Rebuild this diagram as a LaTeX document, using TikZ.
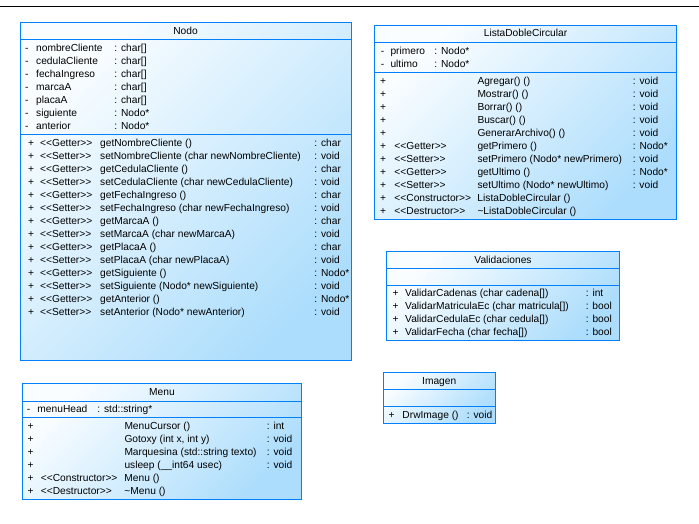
\documentclass[tikz,border=0pt]{standalone}
\usepackage{fontspec}
\setmainfont{Liberation Sans}
\definecolor{umlBorder}{RGB}{0,128,255}
\definecolor{umlLight}{RGB}{250,253,255}
\definecolor{umlDark}{RGB}{172,221,252}
\newcommand{\umlcell}[2]{\makebox[#1pt][l]{#2}}
\newcommand{\stereo}[1]{<\kern0pt<#1>\kern0pt>}
\tikzset{
  classbox/.style={draw=umlBorder, line width=0.9pt, top color=umlLight, bottom color=umlDark, shading angle=45},
  sepline/.style={draw=umlBorder, line width=0.9pt},
  ttl/.style={anchor=base, inner sep=0pt, font=\fontsize{10.2}{12}\selectfont},
  umlrow/.style={anchor=base west, inner sep=0pt, font=\fontsize{10.2}{12}\selectfont},
}
\begin{document}
\begin{tikzpicture}[x=1pt, y=-1pt]
            \useasboundingbox (0, 0) rectangle (699, 523);
            \coordinate (pageL) at (0, 6);
            \coordinate (pageR) at (699, 6);
            \draw[black, line width=1pt] (pageL) -- (pageR);

            % Nodo
            \draw[classbox] (20, 22) rectangle (351, 360);
            \draw[sepline] (20, 39.3) -- (351, 39.3);
            \draw[sepline] (20, 134.3) -- (351, 134.3);
            \node[ttl] (nodoT) at (185.5, 34) {Nodo};
            \node[umlrow] (nodoA1) at (25, 51) {\umlcell{11}{-}\umlcell{78.3}{nombreCliente}: char[]};
            \node[umlrow] (nodoA2) at (25, 64) {\umlcell{11}{-}\umlcell{78.3}{cedulaCliente}: char[]};
            \node[umlrow] (nodoA3) at (25, 77) {\umlcell{11}{-}\umlcell{78.3}{fechaIngreso}: char[]};
            \node[umlrow] (nodoA4) at (25, 90) {\umlcell{11}{-}\umlcell{78.3}{marcaA}: char[]};
            \node[umlrow] (nodoA5) at (25, 103) {\umlcell{11}{-}\umlcell{78.3}{placaA}: char[]};
            \node[umlrow] (nodoA6) at (25, 116) {\umlcell{11}{-}\umlcell{78.3}{siguiente}: Nodo*};
            \node[umlrow] (nodoA7) at (25, 129) {\umlcell{11}{-}\umlcell{78.3}{anterior}: Nodo*};
            \node[umlrow] (nodoM1) at (28, 146) {\umlcell{12}{+}\umlcell{60}{\stereo{Getter}}\umlcell{214.3}{getNombreCliente ()}: char};
            \node[umlrow] (nodoM2) at (28, 159) {\umlcell{12}{+}\umlcell{60}{\stereo{Setter}}\umlcell{214.3}{setNombreCliente (char newNombreCliente)}: void};
            \node[umlrow] (nodoM3) at (28, 172) {\umlcell{12}{+}\umlcell{60}{\stereo{Getter}}\umlcell{214.3}{getCedulaCliente ()}: char};
            \node[umlrow] (nodoM4) at (28, 185) {\umlcell{12}{+}\umlcell{60}{\stereo{Setter}}\umlcell{214.3}{setCedulaCliente (char newCedulaCliente)}: void};
            \node[umlrow] (nodoM5) at (28, 198) {\umlcell{12}{+}\umlcell{60}{\stereo{Getter}}\umlcell{214.3}{getFechaIngreso ()}: char};
            \node[umlrow] (nodoM6) at (28, 211) {\umlcell{12}{+}\umlcell{60}{\stereo{Setter}}\umlcell{214.3}{setFechaIngreso (char newFechaIngreso)}: void};
            \node[umlrow] (nodoM7) at (28, 224) {\umlcell{12}{+}\umlcell{60}{\stereo{Getter}}\umlcell{214.3}{getMarcaA ()}: char};
            \node[umlrow] (nodoM8) at (28, 237) {\umlcell{12}{+}\umlcell{60}{\stereo{Setter}}\umlcell{214.3}{setMarcaA (char newMarcaA)}: void};
            \node[umlrow] (nodoM9) at (28, 250) {\umlcell{12}{+}\umlcell{60}{\stereo{Getter}}\umlcell{214.3}{getPlacaA ()}: char};
            \node[umlrow] (nodoM10) at (28, 263) {\umlcell{12}{+}\umlcell{60}{\stereo{Setter}}\umlcell{214.3}{setPlacaA (char newPlacaA)}: void};
            \node[umlrow] (nodoM11) at (28, 276) {\umlcell{12}{+}\umlcell{60}{\stereo{Getter}}\umlcell{214.3}{getSiguiente ()}: Nodo*};
            \node[umlrow] (nodoM12) at (28, 289) {\umlcell{12}{+}\umlcell{60}{\stereo{Setter}}\umlcell{214.3}{setSiguiente (Nodo* newSiguiente)}: void};
            \node[umlrow] (nodoM13) at (28, 302) {\umlcell{12}{+}\umlcell{60}{\stereo{Getter}}\umlcell{214.3}{getAnterior ()}: Nodo*};
            \node[umlrow] (nodoM14) at (28, 315) {\umlcell{12}{+}\umlcell{60}{\stereo{Setter}}\umlcell{214.3}{setAnterior (Nodo* newAnterior)}: void};

            % ListaDobleCircular
            \draw[classbox] (374.3, 25.7) rectangle (676.7, 219);
            \draw[sepline] (374.3, 42.3) -- (676.7, 42.3);
            \draw[sepline] (374.3, 72.3) -- (676.7, 72.3);
            \node[ttl] (listaT) at (525.5, 36.6) {ListaDobleCircular};
            \node[umlrow] (listaA1) at (380.7, 54) {\umlcell{9.6}{-}\umlcell{44}{primero}: Nodo*};
            \node[umlrow] (listaA2) at (380.7, 67) {\umlcell{9.6}{-}\umlcell{44}{ultimo}: Nodo*};
            \node[umlrow] (listaM1) at (380, 84) {\umlcell{14.3}{+}\umlcell{83}{}\umlcell{155.4}{Agregar() ()}: void};
            \node[umlrow] (listaM2) at (380, 97) {\umlcell{14.3}{+}\umlcell{83}{}\umlcell{155.4}{Mostrar() ()}: void};
            \node[umlrow] (listaM3) at (380, 110) {\umlcell{14.3}{+}\umlcell{83}{}\umlcell{155.4}{Borrar() ()}: void};
            \node[umlrow] (listaM4) at (380, 123) {\umlcell{14.3}{+}\umlcell{83}{}\umlcell{155.4}{Buscar() ()}: void};
            \node[umlrow] (listaM5) at (380, 136) {\umlcell{14.3}{+}\umlcell{83}{}\umlcell{155.4}{GenerarArchivo() ()}: void};
            \node[umlrow] (listaM6) at (380, 149) {\umlcell{14.3}{+}\umlcell{83}{\stereo{Getter}}\umlcell{155.4}{getPrimero ()}: Nodo*};
            \node[umlrow] (listaM7) at (380, 162) {\umlcell{14.3}{+}\umlcell{83}{\stereo{Setter}}\umlcell{155.4}{setPrimero (Nodo* newPrimero)}: void};
            \node[umlrow] (listaM8) at (380, 175) {\umlcell{14.3}{+}\umlcell{83}{\stereo{Getter}}\umlcell{155.4}{getUltimo ()}: Nodo*};
            \node[umlrow] (listaM9) at (380, 188) {\umlcell{14.3}{+}\umlcell{83}{\stereo{Setter}}\umlcell{155.4}{setUltimo (Nodo* newUltimo)}: void};
            \node[umlrow] (listaM10) at (380, 201) {\umlcell{14.3}{+}\umlcell{83}{\stereo{Constructor}}ListaDobleCircular ()};
            \node[umlrow] (listaM11) at (380, 214) {\umlcell{14.3}{+}\umlcell{83}{\stereo{Destructor}}\textasciitilde ListaDobleCircular ()};

            % Validaciones
            \draw[classbox] (386.7, 251.7) rectangle (619.3, 340);
            \draw[sepline] (386.7, 268.3) -- (619.3, 268.3);
            \draw[sepline] (386.7, 285.7) -- (619.3, 285.7);
            \node[ttl] (validT) at (503, 263.3) {Validaciones};
            \node[umlrow] (validM1) at (392.3, 296.6) {\umlcell{12.7}{+}\umlcell{180.7}{ValidarCadenas (char cadena[])}: int};
            \node[umlrow] (validM2) at (392.3, 309.6) {\umlcell{12.7}{+}\umlcell{180.7}{ValidarMatriculaEc (char matricula[])}: bool};
            \node[umlrow] (validM3) at (392.3, 322.6) {\umlcell{12.7}{+}\umlcell{180.7}{ValidarCedulaEc (char cedula[])}: bool};
            \node[umlrow] (validM4) at (392.3, 335.6) {\umlcell{12.7}{+}\umlcell{180.7}{ValidarFecha (char fecha[])}: bool};

            % Imagen
            \draw[classbox] (383.3, 372.3) rectangle (495, 423.3);
            \draw[sepline] (383.3, 389.3) -- (495, 389.3);
            \draw[sepline] (383.3, 406) -- (495, 406);
            \node[ttl] (imagenT) at (439.2, 384) {Imagen};
            \node[umlrow] (imagenM1) at (388.3, 418) {\umlcell{14}{+}\umlcell{64.4}{DrwImage ()}: void};

            % Menu
            \draw[classbox] (22.3, 383.3) rectangle (301.7, 499.3);
            \draw[sepline] (22.3, 401) -- (301.7, 401);
            \draw[sepline] (22.3, 417.3) -- (301.7, 417.3);
            \node[ttl] (menuT) at (162, 395) {Menu};
            \node[umlrow] (menuA1) at (26.7, 412.3) {\umlcell{10.6}{-}\umlcell{60}{menuHead}: std::string*};
            \node[umlrow] (menuM1) at (27.3, 429.3) {\umlcell{13.4}{+}\umlcell{83.6}{}\umlcell{142.4}{MenuCursor ()}: int};
            \node[umlrow] (menuM2) at (27.3, 442.3) {\umlcell{13.4}{+}\umlcell{83.6}{}\umlcell{142.4}{Gotoxy (int x, int y)}: void};
            \node[umlrow] (menuM3) at (27.3, 455.3) {\umlcell{13.4}{+}\umlcell{83.6}{}\umlcell{142.4}{Marquesina (std::string texto)}: void};
            \node[umlrow] (menuM4) at (27.3, 468.3) {\umlcell{13.4}{+}\umlcell{83.6}{}\umlcell{142.4}{usleep (\_\_int64 usec)}: void};
            \node[umlrow] (menuM5) at (27.3, 481.3) {\umlcell{13.4}{+}\umlcell{83.6}{\stereo{Constructor}}Menu ()};
            \node[umlrow] (menuM6) at (27.3, 494.3) {\umlcell{13.4}{+}\umlcell{83.6}{\stereo{Destructor}}\textasciitilde Menu ()};

        \end{tikzpicture}
\end{document}
